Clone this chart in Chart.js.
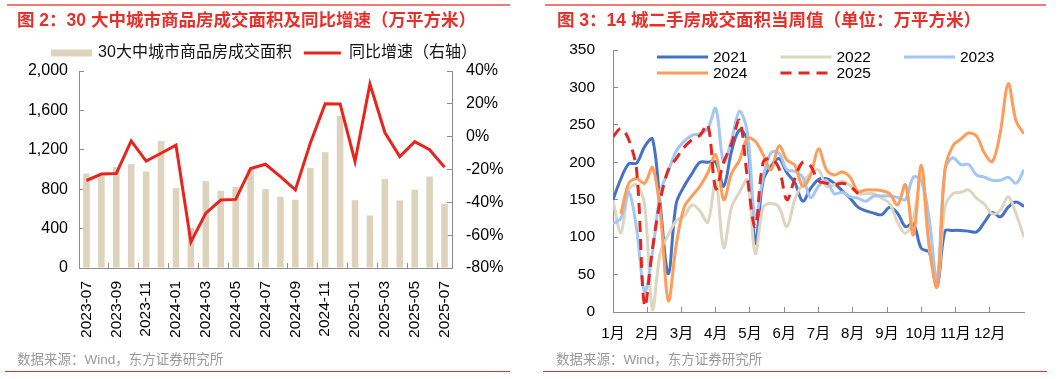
<!DOCTYPE html>
<html lang="zh-CN">
<head>
<meta charset="utf-8">
<title>商品房与二手房成交面积</title>
<script src="https://cdn.jsdelivr.net/npm/chart.js@4.4.1/dist/chart.umd.min.js"></script>
<style>
  body { margin: 0; width: 1061px; height: 379px; background: #fff; position: relative; overflow: hidden;
         font-family: 'Liberation Sans', 'Noto Sans CJK SC', sans-serif; }
  canvas { position: absolute; top: 0; }
  .rule-top { position: absolute; top: 4px; height: 2px; background: #ef7b74; }
  .rule-bottom { position: absolute; top: 371px; height: 1px; background: #e8302a; }
  .title { position: absolute; top: 9px; font-size: 17.5px; line-height: 22px; font-weight: bold; color: #e8302a; white-space: nowrap; }
  .source { position: absolute; top: 352px; font-size: 13.5px; line-height: 16px; color: #999; white-space: nowrap; }
</style>
</head>
<body>
<canvas id="areaChart" width="530" height="379" style="left:0"></canvas>
<canvas id="resaleChart" width="531" height="379" style="left:530px"></canvas>

<div class="rule-top" style="left:7px;width:503px"></div>
<div class="rule-top" style="left:545px;width:501px"></div>
<div class="title" style="left:17px">图 2：30 大中城市商品房成交面积及同比增速（万平方米）</div>
<div class="title" style="left:557px">图 3：14 城二手房成交面积当周值（单位：万平方米）</div>
<div class="source" style="left:17px">数据来源：Wind，东方证券研究所</div>
<div class="source" style="left:556px">数据来源：Wind，东方证券研究所</div>
<div class="rule-bottom" style="left:5px;width:505px"></div>
<div class="rule-bottom" style="left:543px;width:504px"></div>

<script>
const FONT = "'Liberation Sans', 'Noto Sans CJK SC', sans-serif";
const AXIS = '#8c8c8c';

// 图2：30大中城市商品房成交面积（万平方米）及同比增速（%）
const months = ['2023-07', '2023-08', '2023-09', '2023-10', '2023-11', '2023-12', '2024-01', '2024-02',
  '2024-03', '2024-04', '2024-05', '2024-06', '2024-07', '2024-08', '2024-09', '2024-10', '2024-11',
  '2024-12', '2025-01', '2025-02', '2025-03', '2025-04', '2025-05', '2025-06', '2025-07'];
const areaTotal = [959, 940, 1024, 1054, 980, 1290, 811, 408, 882, 784, 824, 1007, 801, 723, 693,
  1014, 1176, 1544, 689, 534, 905, 686, 794, 929, 652];
const yoyGrowth = [-26.7, -22.8, -22.4, -2.6, -14.9, -10.1, -5.2, -64.2, -46.6, -38.6, -38.2, -19.4,
  -16.8, -24.3, -32.4, -4.0, 20.1, 19.9, -15.1, 32.1, 2.5, -12.1, -3.0, -8.0, -18.6];

// 图3：14城二手房成交面积当周值（万平方米），按年内周次
const weeks = [0, 1, 2, 3, 4, 5, 6, 7, 8, 9, 10, 11, 12, 13, 14, 15, 16, 17, 18, 19, 20, 21, 22, 23,
  24, 25, 26, 27, 28, 29, 30, 31, 32, 33, 34, 35, 36, 37, 38, 39, 40, 41, 42, 43, 44, 45, 46, 47, 48,
  49, 50, 51, 52];
const monthTicks = [0, 4.33, 8.67, 13, 17.33, 21.67, 26, 30.33, 34.67, 39, 43.33, 47.67];
const monthLabels = ['1月', '2月', '3月', '4月', '5月', '6月', '7月', '8月', '9月', '10月', '11月', '12月'];
const v2021 = [150, 178, 198, 199, 221, 231, 140, 51, 145, 168, 185, 200, 200, 200, 168, 215, 243, 230,
  92, 176, 195, 205, 186, 173, 148, 165, 177, 178, 172, 162, 152, 140, 135, 132, 130, 140, 132, 114,
  118, 85, 80, 34, 108, 109, 109, 108, 107, 120, 133, 127, 140, 147, 141];
const v2022 = [149, 106, 163, 170, 143, 3, 80, 103, 122, 128, 143, 135, 120, 176, 86, 140, 160, 176,
  78, 140, 145, 140, 114, 150, 172, 185, 190, 168, 170, 175, 169, 158, 158, 158, 152, 145, 120, 105,
  125, 180, 85, 36, 140, 158, 160, 163, 152, 144, 131, 136, 154, 131, 100];
const v2023 = [118, 125, 160, 110, 27, 80, 160, 188, 215, 228, 236, 238, 245, 272, 200, 230, 268, 240,
  125, 180, 213, 212, 190, 188, 180, 153, 168, 176, 158, 160, 154, 152, 148, 155, 155, 155, 153, 150,
  180, 176, 125, 42, 190, 206, 197, 197, 183, 180, 176, 176, 180, 172, 190];
const v2024 = [null, 131, 172, 178, 172, 193, 131, 15, 90, 140, 155, 168, 186, 210, 150, 185, 203, 232,
  228, 210, 190, 222, 203, 196, 168, 183, 218, 190, 183, 187, 180, 161, 163, 163, 162, 158, 143, 170,
  103, 196, 90, 34, 190, 222, 231, 239, 235, 212, 201, 240, 305, 255, 238];
const v2025 = [234, 245, 230, 188, 8, 85, 150, 190, 205, 220, 230, 236, 250, 165, 200, 225, 256, 180,
  114, 200, 205, 192, 150, 178, 200, 195, 175, 172, 170, 172, 168, 158];

Chart.defaults.font.family = FONT;
Chart.defaults.color = '#000';

const barColor = '#ddd3bc';
const lineColor = '#e8251d';

function axisGrid(color) {
  return { drawOnChartArea: false, tickLength: -5, color: color };
}

// Data Graph: 30大中城市
new Chart(document.getElementById('areaChart'), {
  data: {
    labels: months,
    datasets: [
      {
        type: 'bar',
        label: '30大中城市商品房成交面积',
        data: areaTotal,
        backgroundColor: barColor,
        categoryPercentage: 1,
        barPercentage: 0.44,
        yAxisID: 'y',
        order: 1,
      },
      {
        type: 'line',
        label: '同比增速（右轴）',
        data: yoyGrowth,
        borderColor: lineColor,
        backgroundColor: lineColor,
        borderWidth: 3,
        pointRadius: 0,
        tension: 0,
        yAxisID: 'y1',
        order: 0,
      },
    ],
  },
  options: {
    responsive: false,
    animation: false,
    layout: { padding: { top: 33 } },
    plugins: {
      tooltip: { enabled: false },
      legend: {
        labels: {
          font: { size: 16 },
          color: '#111',
          boxWidth: 37,
          boxHeight: 3,
          padding: 12,
          sort: (a, b) => a.datasetIndex - b.datasetIndex,
          generateLabels(chart) {
            const items = Chart.defaults.plugins.legend.labels.generateLabels(chart);
            items.forEach(item => {
              if (item.datasetIndex === 0) {
                item.lineWidth = 4;
                item.strokeStyle = barColor;
              } else {
                item.lineWidth = 0;
                item.fillStyle = lineColor;
              }
            });
            return items;
          },
        },
      },
    },
    scales: {
      x: {
        grid: axisGrid(ctx => (ctx.index % 2 === 0 ? AXIS : 'transparent')),
        border: { color: AXIS },
        ticks: {
          autoSkip: false,
          minRotation: 90,
          maxRotation: 90,
          padding: 18,
          font: { size: 15.5 },
          callback: (v, i) => (i % 2 === 0 ? months[i] : ''),
        },
        afterFit: s => { s.height = 111; },
      },
      y: {
        position: 'left',
        min: 0,
        max: 2000,
        grid: axisGrid(AXIS),
        border: { color: AXIS },
        ticks: { stepSize: 400, padding: 16, font: { size: 16 }, callback: v => v.toLocaleString('en-US') },
        afterFit: s => { s.width = 79; },
      },
      y1: {
        position: 'right',
        min: -80,
        max: 40,
        grid: axisGrid(AXIS),
        border: { color: AXIS },
        ticks: { stepSize: 20, padding: 19, font: { size: 16 }, callback: v => v + '%' },
        afterFit: s => { s.width = 78; },
      },
    },
  },
});

// legend laid out in three columns like the source chart
const yearLegend = {
  id: 'yearLegend',
  afterDraw(chart) {
    const { ctx, chartArea } = chart;
    ctx.save();
    ctx.font = '15.5px ' + FONT;
    ctx.textBaseline = 'middle';
    chart.data.datasets.forEach((ds, i) => {
      const x = chartArea.left + 44 + (i % 3) * 123.5;
      const y = chartArea.top + 7 + Math.floor(i / 3) * 16;
      ctx.strokeStyle = ds.borderColor;
      ctx.lineWidth = 3;
      ctx.setLineDash(ds.borderDash || []);
      ctx.beginPath();
      ctx.moveTo(x, y);
      ctx.lineTo(x + 51, y);
      ctx.stroke();
      ctx.fillStyle = '#000';
      ctx.fillText(ds.label, x + 56, y + 1);
    });
    ctx.restore();
  },
};

function yearSeries(label, data, color, order, dash) {
  return { label, data, borderColor: color, backgroundColor: color, borderDash: dash || [], order };
}

// 14城二手房
new Chart(document.getElementById('resaleChart'), {
  type: 'line',
  data: {
    labels: weeks,
    datasets: [
      yearSeries('2021', v2021, '#4472c4', 5),
      yearSeries('2022', v2022, '#ddd5c0', 4),
      yearSeries('2023', v2023, '#a3c7f5', 3),
      yearSeries('2024', v2024, '#fd9d59', 2),
      yearSeries('2025', v2025, '#e3261f', 1, [11, 7]),
    ],
  },
  options: {
    responsive: false,
    animation: false,
    layout: { padding: { top: 50, right: 37 } },
    elements: {
      point: { radius: 0 },
      line: { borderWidth: 3, tension: 0.35 },
    },
    plugins: {
      legend: { display: false },
      tooltip: { enabled: false },
    },
    scales: {
      x: {
        type: 'linear',
        min: 0,
        max: 52,
        afterBuildTicks: s => { s.ticks = monthTicks.map(v => ({ value: v })); },
        grid: axisGrid(AXIS),
        border: { color: AXIS },
        ticks: { autoSkip: false, maxRotation: 0, padding: 18, font: { size: 15 }, callback: (v, i) => monthLabels[i] },
        afterFit: s => { s.height = 67; },
      },
      y: {
        min: 0,
        max: 350,
        grid: axisGrid(AXIS),
        border: { color: AXIS },
        ticks: { stepSize: 50, padding: 23, font: { size: 15.5 } },
        afterFit: s => { s.width = 83; },
      },
    },
  },
  plugins: [yearLegend],
});
</script>
</body>
</html>
